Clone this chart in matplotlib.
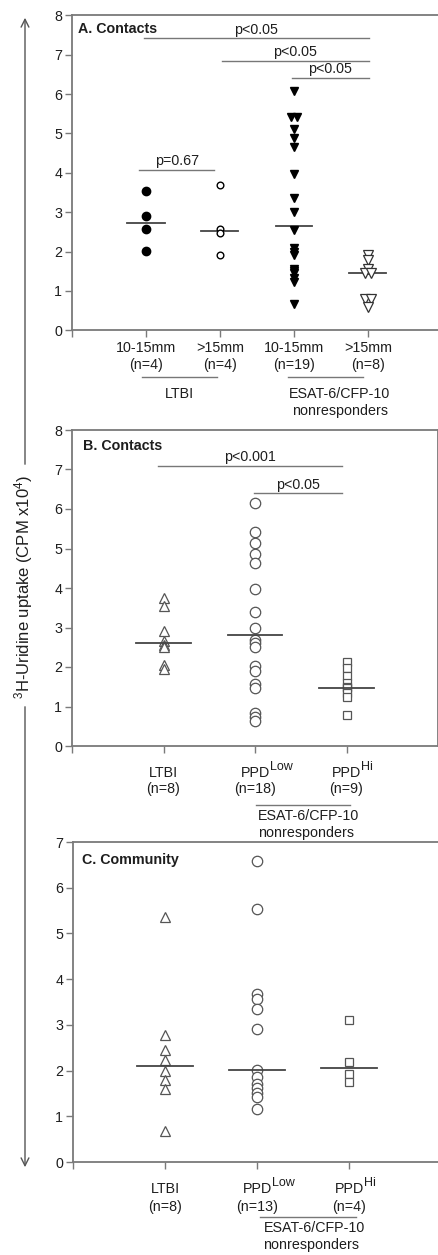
import matplotlib
matplotlib.use("Agg")
import matplotlib.pyplot as plt
import matplotlib.transforms as mtransforms
import numpy as np

plt.rcParams['font.family'] = ['Liberation Sans', 'DejaVu Sans']
plt.rcParams['mathtext.fontset'] = 'custom'
plt.rcParams['mathtext.rm'] = 'Liberation Sans'
plt.rcParams['mathtext.it'] = 'Liberation Sans:italic'
plt.rcParams['mathtext.bf'] = 'Liberation Sans:bold'

# ---- data (CPM x10^4) ----
# A. Contacts
a_labels = ['10-15mm\n(n=4)', '>15mm\n(n=4)', '10-15mm\n(n=19)', '>15mm\n(n=8)']
a_ltbi_low = [3.55, 2.90, 2.56, 2.02]
a_ltbi_hi = [3.68, 2.58, 2.46, 1.91]
a_esat_low = [6.07, 5.41, 5.41, 5.11, 4.89, 4.65, 3.97, 3.36, 3.00, 2.54,
              2.10, 2.00, 1.90, 1.55, 1.50, 1.45, 1.33, 1.22, 0.67]
a_esat_hi = [1.90, 1.78, 1.55, 1.45, 1.45, 0.80, 0.80, 0.60]
a_medians = [2.73, 2.52, 2.66, 1.46]

# B. Contacts
b_names = [('LTBI', ''), ('PPD', 'Low'), ('PPD', 'Hi')]
b_counts = ['(n=8)', '(n=18)', '(n=9)']
b_ltbi = [3.75, 3.55, 2.90, 2.65, 2.55, 2.50, 2.05, 1.95]
b_ppd_low = [6.16, 5.41, 5.13, 4.86, 4.64, 3.97, 3.38, 2.98, 2.68, 2.60,
             2.51, 2.02, 1.91, 1.56, 1.48, 0.83, 0.73, 0.63]
b_ppd_hi = [2.12, 1.97, 1.78, 1.60, 1.50, 1.46, 1.33, 1.25, 0.78]
b_medians = [2.60, 2.81, 1.46]

# C. Community
c_names = [('LTBI', ''), ('PPD', 'Low'), ('PPD', 'Hi')]
c_counts = ['(n=8)', '(n=13)', '(n=4)']
c_ltbi = [5.37, 2.78, 2.46, 2.23, 2.00, 1.79, 1.59, 0.67]
c_ppd_low = [6.58, 5.54, 3.68, 3.57, 3.35, 2.90, 2.01, 1.86, 1.70, 1.61, 1.51, 1.43, 1.16]
c_ppd_hi = [3.11, 2.18, 1.92, 1.75]
c_medians = [2.11, 2.01, 2.06]

# significance bars: (x start, x end, y, text)
a_sig = [(0.97, 4.01, 7.42, 'p<0.05'), (2.03, 4.01, 6.84, 'p<0.05'),
         (2.97, 4.01, 6.41, 'p<0.05'), (0.91, 1.92, 4.08, 'p=0.67')]
b_sig = [(0.94, 2.95, 7.09, 'p<0.001'), (1.99, 2.95, 6.40, 'p<0.05')]

W, H = 438, 1255
FS = 10.3
fig = plt.figure(figsize=(W / 100, H / 100), dpi=100)

# overlay in pixel coordinates for the outer decorations
ov = fig.add_axes([0, 0, 1, 1])
ov.set_xlim(0, W)
ov.set_ylim(H, 0)
ov.axis('off')
ov.patch.set_visible(False)

def px_axes(left, top, right, bottom):
    return fig.add_axes([left / W, 1 - bottom / H, (right - left) / W, (bottom - top) / H])

spine_c = '#7a7a7a'
text_c = '#1e1e1e'

def spread(vals):
    # put equal values side by side
    offs = np.zeros(len(vals))
    for v in set(vals):
        idx = [i for i, u in enumerate(vals) if u == v]
        if len(idx) > 1:
            offs[idx] = np.linspace(-0.04, 0.04, len(idx))
    return offs

def style(ax, xmax, ymax, labels):
    ax.set_xlim(0, xmax)
    ax.set_ylim(0, ymax)
    for s in ax.spines.values():
        s.set_color(spine_c)
        s.set_linewidth(1.3)
    ax.set_yticks(range(ymax + 1))
    ax.set_xticks(range(len(labels) + 1))
    ax.set_xticklabels([''] + labels)
    ax.tick_params(axis='both', colors=spine_c, length=5, width=1, labelcolor=text_c, labelsize=FS)
    ax.tick_params(axis='x', pad=3)
    ax.tick_params(axis='y', pad=2)

def median_lines(ax, meds, hw):
    for i, m in enumerate(meds):
        ax.plot([i + 1 - hw, i + 1 + hw], [m, m], color='#444444', lw=1.3, zorder=3)

def sig_bars(ax, bars):
    for x0, x1, y, t in bars:
        ax.plot([x0, x1], [y, y], color='#777777', lw=1)
        ax.text((x0 + x1) / 2, y + 0.04, t, ha='center', va='bottom', fontsize=FS, color=text_c)

def group_note(ax, x0, x1, y_line, txt, tx, ty, ha):
    tr = mtransforms.blended_transform_factory(ax.transData, ov.transData)
    ov.plot([x0, x1], [y_line, y_line], color='#777777', lw=1, transform=tr, clip_on=False)
    ov.text(tx, ty, txt, ha=ha, va='top', fontsize=FS, color=text_c, transform=tr, linespacing=1.25)

def group_labels(ax, names, counts, y_name, y_count):
    tr = mtransforms.blended_transform_factory(ax.transData, ov.transData)
    for i, ((base, sup), cnt) in enumerate(zip(names, counts)):
        t = ov.text(i + 1, y_name, base, ha='center', va='baseline', fontsize=FS,
                    color=text_c, transform=tr)
        if sup:
            ov.annotate(sup, xy=(1, 1), xycoords=t, xytext=(0, 3.5), textcoords='offset points',
                        ha='left', va='top', fontsize=9, color=text_c)
        ov.text(i + 1, y_count, cnt, ha='center', va='baseline', fontsize=FS,
                color=text_c, transform=tr)

# ---- panel A ----
axA = px_axes(72, 15.3, 72 + 5 * 74, 330.3)
style(axA, 5, 8, a_labels)
axA.plot(1 + spread(a_ltbi_low), a_ltbi_low, 'o', color='black', ms=6, zorder=4)
axA.plot(2 + spread(a_ltbi_hi), a_ltbi_hi, 'o', mfc='white', mec='black', ms=4.8, mew=1, zorder=4)
axA.plot(3 + spread(a_esat_low), a_esat_low, 'v', color='black', ms=6, zorder=4)
axA.plot(4 + spread(a_esat_hi), a_esat_hi, 'v', mfc='white', mec='#333333', ms=6.5, mew=0.9, zorder=4)
median_lines(axA, a_medians, 0.25)
sig_bars(axA, a_sig)
axA.text(0.016, 0.957, 'A. Contacts', transform=axA.transAxes, fontsize=FS, fontweight='bold',
         va='center', color=text_c)
group_note(axA, 0.95, 1.96, 377, 'LTBI', 1.45, 387, 'center')
group_note(axA, 2.92, 3.93, 377, 'ESAT-6/CFP-10\nnonresponders', 3.62, 387, 'center')

# ---- panel B ----
axB = px_axes(72, 430, 438, 746)
style(axB, 4, 8, ['', '', ''])
axB.plot(1 + spread(b_ltbi), b_ltbi, '^', mfc='white', mec='#555555', ms=7, mew=0.9)
axB.plot(2 + spread(b_ppd_low), b_ppd_low, 'o', mfc='white', mec='#555555', ms=7.5, mew=0.9)
axB.plot(3 + spread(b_ppd_hi), b_ppd_hi, 's', mfc='white', mec='#555555', ms=6, mew=0.9)
median_lines(axB, b_medians, 0.30)
sig_bars(axB, b_sig)
axB.text(0.03, 0.949, 'B. Contacts', transform=axB.transAxes, fontsize=FS, fontweight='bold',
         va='center', color=text_c)
group_labels(axB, b_names, b_counts, 777, 793)
group_note(axB, 2.01, 3.04, 805, 'ESAT-6/CFP-10\nnonresponders', 2.03, 809, 'left')

# ---- panel C ----
axC = px_axes(73, 842, 73 + 4 * 92, 1162)
style(axC, 4, 7, ['', '', ''])
axC.plot(1 + spread(c_ltbi), c_ltbi, '^', mfc='white', mec='#555555', ms=7, mew=0.9)
axC.plot(2 + spread(c_ppd_low), c_ppd_low, 'o', mfc='white', mec='#555555', ms=7.5, mew=0.9)
axC.plot(3 + spread(c_ppd_hi), c_ppd_hi, 's', mfc='white', mec='#555555', ms=6, mew=0.9)
median_lines(axC, c_medians, 0.30)
axC.text(0.024, 0.944, 'C. Community', transform=axC.transAxes, fontsize=FS, fontweight='bold',
         va='center', color=text_c)
group_labels(axC, c_names, c_counts, 1193, 1211)
group_note(axC, 2.03, 3.08, 1217, 'ESAT-6/CFP-10\nnonresponders', 2.07, 1221, 'left')

# ---- shared y label with arrows ----
ov.text(24, 587, r'$^{\mathregular{3}}$H-Uridine uptake (CPM x10$^{\mathregular{4}}$)', rotation=90,
        ha='center', va='center', fontsize=12, color=text_c)
ov.annotate('', xy=(25, 15), xytext=(25, 467),
            arrowprops=dict(arrowstyle='->', color='#555555', lw=1, mutation_scale=14))
ov.annotate('', xy=(25, 1170), xytext=(25, 704),
            arrowprops=dict(arrowstyle='->', color='#555555', lw=1, mutation_scale=14))

fig.savefig('out.png', dpi=100)
